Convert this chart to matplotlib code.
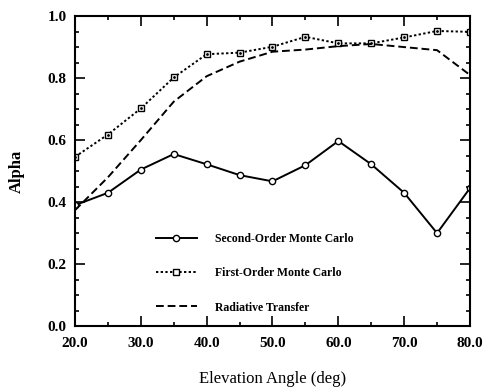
import matplotlib
matplotlib.use('Agg')
import matplotlib.pyplot as plt
import numpy as np

# elevation angles (deg)
angles = [20, 25, 30, 35, 40, 45, 50, 55, 60, 65, 70, 75, 80]
second_order = [0.39, 0.43, 0.505, 0.555, 0.522, 0.487, 0.467, 0.519, 0.597,
                0.522, 0.43, 0.30, 0.445]
first_order = [0.546, 0.618, 0.702, 0.802, 0.877, 0.882, 0.901, 0.933, 0.912,
               0.912, 0.931, 0.952, 0.949]
radiative = [0.374, 0.48, 0.60, 0.724, 0.806, 0.853, 0.885, 0.892, 0.903,
             0.91, 0.90, 0.89, 0.81]

xticks = [20, 30, 40, 50, 60, 70, 80]
yticks = [0.0, 0.2, 0.4, 0.6, 0.8, 1.0]

serif = ['Liberation Serif', 'DejaVu Serif']
plt.rcParams['font.family'] = serif

fig = plt.figure(figsize=(4.84, 3.92), dpi=100)
ax = fig.add_axes([0.155, 0.168, 0.816, 0.791])

ax.plot(angles, second_order, color='black', linewidth=1.4, linestyle='-',
        marker='o', markersize=4.5, markerfacecolor='white',
        markeredgewidth=1.0, label='Second-Order Monte Carlo')
ax.plot(angles, first_order, color='black', linewidth=1.4, linestyle=(0, (1.2, 1.2)),
        marker='s', markersize=4.5, markerfacecolor='white',
        markeredgewidth=1.0, label='First-Order Monte Carlo')
ax.plot(angles, first_order, linestyle='none', marker='.', markersize=2,
        color='black')
ax.plot(angles, radiative, color='black', linewidth=1.4, linestyle=(0, (4, 2)),
        label='Radiative Transfer')

ax.set_xlim(20, 80)
ax.set_ylim(0, 1.0)
ax.set_xticks(xticks)
ax.set_xticklabels(['{:.1f}'.format(v) for v in xticks])
ax.set_xticks(np.arange(20, 81, 5), minor=True)
ax.set_yticks(yticks)
ax.set_yticklabels(['{:.1f}'.format(v) for v in yticks])
ax.set_yticks(np.arange(0, 1.01, 0.05), minor=True)

ax.tick_params(which='both', direction='in', top=True, right=True, width=1.2)
ax.tick_params(which='major', length=7)
ax.tick_params(which='minor', length=3)
ax.tick_params(axis='x', which='major', pad=8)
ax.tick_params(axis='y', which='major', pad=6)
for lab in ax.get_xticklabels() + ax.get_yticklabels():
    lab.set_fontweight('bold')
    lab.set_fontsize(11)
for s in ax.spines.values():
    s.set_linewidth(1.5)

ax.set_xlabel('Elevation Angle (deg)', fontsize=12, labelpad=15)
ax.set_ylabel('Alpha', fontsize=12, fontweight='bold', labelpad=16)

handles, labels = ax.get_legend_handles_labels()
leg = ax.legend(handles, labels, loc='center left', bbox_to_anchor=(0.177, 0.171),
                frameon=False, prop={'family': serif, 'weight': 'bold', 'size': 8.5},
                handlelength=3.5, labelspacing=1.9, handletextpad=1.5)

fig.savefig('out.png', dpi=100)
